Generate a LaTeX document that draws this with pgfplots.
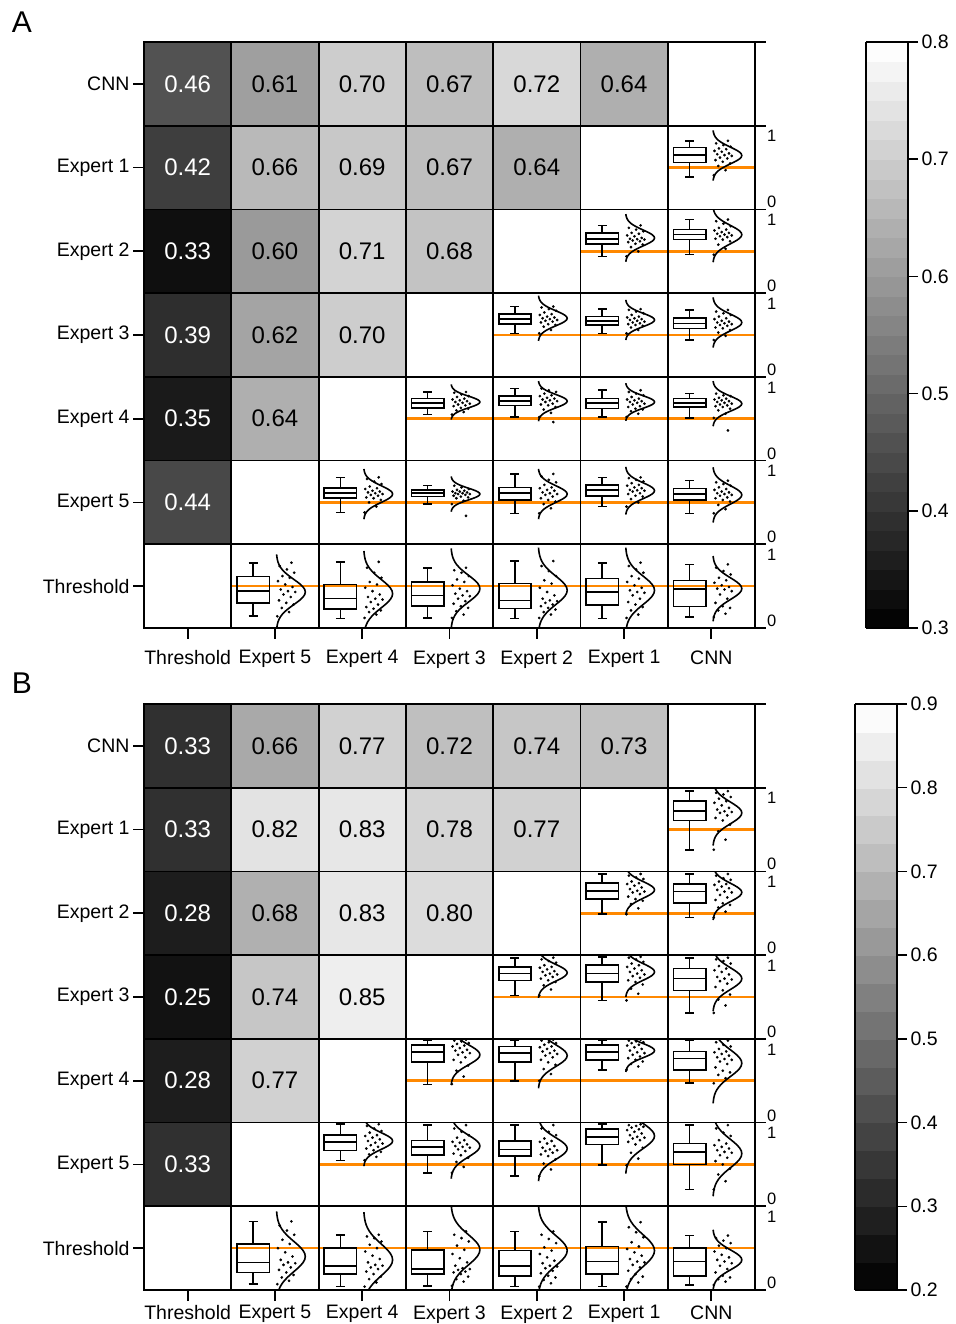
\documentclass[border=0pt]{standalone}
\usepackage{pgfplots}
\pgfplotsset{compat=1.18}
\usepackage{pgfplotstable}
\usepackage{fontspec}
\setmainfont{Liberation Sans}
\newcommand\fs[1]{\fontsize{#1}{#1}\selectfont}
\definecolor{kor}{RGB}{255,136,0}
\pgfkeys{/pgf/number format/assume math mode=true}

\pgfplotstableread{
z f
-3.0 0.0111
-2.8 0.0198
-2.6 0.0340
-2.4 0.0561
-2.2 0.0889
-2.0 0.1353
-1.8 0.1979
-1.6 0.2780
-1.4 0.3753
-1.2 0.4868
-1.0 0.6065
-0.8 0.7261
-0.6 0.8353
-0.4 0.9231
-0.2 0.9802
0.0 1.0000
0.2 0.9802
0.4 0.9231
0.6 0.8353
0.8 0.7261
1.0 0.6065
1.2 0.4868
1.4 0.3753
1.6 0.2780
1.8 0.1979
2.0 0.1353
2.2 0.0889
2.4 0.0561
2.6 0.0340
2.8 0.0198
3.0 0.0111
}\normcurve

\pgfplotstableread{
c r v
0 6 0.46
1 6 0.61
2 6 0.70
3 6 0.67
4 6 0.72
5 6 0.64
0 5 0.42
1 5 0.66
2 5 0.69
3 5 0.67
4 5 0.64
0 4 0.33
1 4 0.60
2 4 0.71
3 4 0.68
0 3 0.39
1 3 0.62
2 3 0.70
0 2 0.35
1 2 0.64
0 1 0.44
}\heatA

\pgfplotstableread{
c r v
0 6 0.33
1 6 0.66
2 6 0.77
3 6 0.72
4 6 0.74
5 6 0.73
0 5 0.33
1 5 0.82
2 5 0.83
3 5 0.78
4 5 0.77
0 4 0.28
1 4 0.68
2 4 0.83
3 4 0.80
0 3 0.25
1 3 0.74
2 3 0.85
0 2 0.28
1 2 0.77
0 1 0.33
}\heatB

\pgfplotsset{
  mini/.style={scale only axis, width=87.3pt, height=83.7pt, xmin=0, xmax=87.3,
    ymin=0, ymax=1, hide axis, anchor=south west, clip=true, unbounded coords=jump},
  heat/.style={anchor=south west, scale only axis, width=611pt, height=586pt,
    xmin=-0.5, xmax=6.5, ymin=-0.5, ymax=6.5,
    xtick={0,...,6}, ytick={0,...,6},
    xticklabels={Threshold,Expert 5,Expert 4,Expert 3,Expert 2,Expert 1,CNN},
    yticklabels={Threshold,Expert 5,Expert 4,Expert 3,Expert 2,Expert 1,CNN},
    xtick pos=left, ytick pos=left, tick align=outside, major tick length=11pt,
    tick style={black, line width=1.8pt},
    axis line style={black, line width=1.8pt},
    ticklabel style={font=\fs{19.5}},
    colormap/blackwhite,
    colorbar, colorbar sampled,
    colorbar shift/.style={},
    colorbar style={at={(parent axis.north east)}, anchor=north west,
      scale only axis, width=42pt, height=586pt,
      xtick=\empty, ytick pos=right, yticklabel pos=right,
      tick align=outside, major tick length=10pt,
      tick style={black, line width=1.5pt},
      axis line style={black, line width=1.5pt},
      yticklabel={\pgfmathprintnumber[fixed,fixed zerofill,precision=1]{\tick}},
      yticklabel style={font=\fs{19.5}}}},
  heatsq/.style={scatter, only marks, mark=square*, mark size=43.65pt,
    mark options={yscale=0.9588}, point meta=explicit,
    scatter/use mapped color={draw=none, fill=mapped color}},
  heattxt/.style={only marks, mark=none, point meta=explicit,
    nodes near coords={\pgfmathprintnumber[fixed,fixed zerofill,precision=2]{\pgfplotspointmeta}},
    every node near coord/.append style={font=\fs{24}, anchor=center}}
}

\newcommand{\cc}[2]{\def\cmu{#1}\def\csig{#2}}
\newcommand{\bx}[8]{%
  \pgfmathsetmacro\cx{144+87.3*#1}%
  \pgfmathsetmacro\cy{\panelY+83.7*#2}%
  \begin{axis}[mini, at={(\cx pt,\cy pt)}]
    \addplot[kor, line width=2.6pt] coordinates {(0,0.5) (87.3,0.5)};
    \addplot[black, line width=1.6pt] coordinates {(5.5,#4) (38,#4) (38,#6) (5.5,#6) (5.5,#4) (38,#4)};
    \addplot[black, line width=1.6pt] coordinates {(5.5,#5) (38,#5)};
    \addplot[black, line width=1.6pt] coordinates {(21.75,#6) (21.75,#7) (nan,nan) (17.25,#7) (26.25,#7)
      (nan,nan) (21.75,#4) (21.75,#3) (nan,nan) (17.25,#3) (26.25,#3)};
    \addplot[only marks, mark=*, mark size=1.15pt, black]
      table[header=false, row sep=\\, x expr={46+19*mod(\coordindex*0.618,1)}, y index=0] {#8\\};
    \addplot[black, line width=1.6pt, smooth]
      table[x expr={45+29*\thisrow{f}}, y expr={\cmu+\csig*\thisrow{z}}] {\normcurve};
  \end{axis}}

\newcommand{\rightax}[1]{%
  \foreach \k in {0,...,7} {\draw[line width=1.8pt] (755pt,{(#1+83.7*\k)*1pt}) -- ++(11pt,0);}
  \foreach \k in {0,...,5} {%
    \node[anchor=base west, inner sep=0pt, font=\fs{16.5}] at (767pt,{(#1+83.7*\k+1.5)*1pt}) {0};
    \node[anchor=base west, inner sep=0pt, font=\fs{16.5}] at (767pt,{(#1+83.7*\k+67.5)*1pt}) {1};}}
\newcommand{\gridlines}[1]{%
  \foreach \k in {1,...,6} {%
    \draw[line width=1.8pt] ({(144+87.3*\k)*1pt},{#1*1pt}) -- ++(0,586pt);
    \draw[line width=1.8pt] (144pt,{(#1+83.7*\k)*1pt}) -- ++(611pt,0);}}

\begin{document}
\begin{tikzpicture}
\useasboundingbox (0,0) rectangle (955pt,1324pt);

% ---------------- Panel A ----------------
\def\panelY{696}
\cc{.645}{.10}\bx{6}{5}{.39}{.56}{.65}{.74}{.82}{0.41\\0.47\\0.52\\0.55\\0.57\\0.59\\0.61\\0.62\\0.64\\0.65\\0.66\\0.67\\0.69\\0.70\\0.72\\0.73\\0.75\\0.77\\0.79\\0.82}
\cc{.66}{.095}\bx{5}{4}{.44}{.585}{.645}{.72}{.81}{0.44\\0.50\\0.55\\0.58\\0.59\\0.61\\0.62\\0.63\\0.64\\0.645\\0.65\\0.66\\0.68\\0.69\\0.71\\0.72\\0.74\\0.76\\0.78\\0.81}
\cc{.70}{.11}\bx{6}{4}{.46}{.64}{.70}{.76}{.88}{0.46\\0.53\\0.58\\0.62\\0.64\\0.65\\0.67\\0.68\\0.69\\0.70\\0.71\\0.72\\0.73\\0.75\\0.76\\0.78\\0.80\\0.83\\0.86\\0.88}
\cc{.70}{.09}\bx{4}{3}{.52}{.63}{.69}{.75}{.84}{0.52\\0.56\\0.60\\0.62\\0.63\\0.65\\0.66\\0.67\\0.68\\0.69\\0.70\\0.71\\0.72\\0.74\\0.75\\0.77\\0.79\\0.81\\0.83\\0.84}
\cc{.68}{.08}\bx{5}{3}{.52}{.62}{.67}{.72}{.81}{0.52\\0.56\\0.59\\0.61\\0.62\\0.63\\0.64\\0.65\\0.66\\0.67\\0.68\\0.69\\0.70\\0.71\\0.72\\0.74\\0.76\\0.78\\0.80\\0.81}
\cc{.65}{.10}\bx{6}{3}{.44}{.58}{.64}{.70}{.80}{0.44\\0.49\\0.53\\0.56\\0.58\\0.59\\0.61\\0.62\\0.63\\0.64\\0.65\\0.66\\0.67\\0.69\\0.70\\0.72\\0.74\\0.76\\0.78\\0.80}
\cc{.70}{.07}\bx{3}{2}{.55}{.63}{.69}{.74}{.82}{0.55\\0.58\\0.60\\0.62\\0.63\\0.65\\0.66\\0.67\\0.68\\0.69\\0.70\\0.71\\0.72\\0.73\\0.74\\0.76\\0.77\\0.79\\0.81\\0.82}
\cc{.71}{.08}\bx{4}{2}{.52}{.66}{.71}{.77}{.86}{0.52\\0.57\\0.61\\0.64\\0.66\\0.67\\0.68\\0.70\\0.71\\0.72\\0.73\\0.74\\0.75\\0.77\\0.78\\0.80\\0.82\\0.84\\0.86\\0.46}
\cc{.70}{.075}\bx{5}{2}{.52}{.62}{.69}{.74}{.84}{0.52\\0.56\\0.59\\0.61\\0.62\\0.64\\0.65\\0.67\\0.68\\0.69\\0.70\\0.71\\0.72\\0.73\\0.74\\0.76\\0.78\\0.80\\0.82\\0.84}
\cc{.68}{.09}\bx{6}{2}{.51}{.64}{.69}{.74}{.80}{0.51\\0.56\\0.60\\0.62\\0.64\\0.65\\0.66\\0.67\\0.68\\0.69\\0.70\\0.71\\0.72\\0.73\\0.74\\0.75\\0.77\\0.78\\0.80\\0.36}
\cc{.60}{.10}\bx{2}{1}{.38}{.55}{.61}{.67}{.80}{0.38\\0.45\\0.50\\0.53\\0.55\\0.56\\0.58\\0.59\\0.60\\0.61\\0.62\\0.63\\0.64\\0.66\\0.67\\0.69\\0.72\\0.75\\0.78\\0.80}
\cc{.60}{.07}\bx{3}{1}{.48}{.57}{.61}{.645}{.70}{0.48\\0.52\\0.55\\0.56\\0.57\\0.58\\0.59\\0.60\\0.60\\0.61\\0.61\\0.62\\0.63\\0.63\\0.64\\0.65\\0.66\\0.68\\0.70\\0.34}
\cc{.60}{.10}\bx{4}{1}{.37}{.53}{.61}{.68}{.84}{0.37\\0.43\\0.48\\0.51\\0.53\\0.55\\0.57\\0.59\\0.60\\0.61\\0.62\\0.64\\0.65\\0.67\\0.68\\0.71\\0.74\\0.77\\0.81\\0.84}
\cc{.64}{.095}\bx{5}{1}{.45}{.58}{.645}{.71}{.80}{0.45\\0.50\\0.54\\0.57\\0.58\\0.60\\0.61\\0.63\\0.64\\0.645\\0.65\\0.67\\0.68\\0.70\\0.71\\0.73\\0.75\\0.77\\0.79\\0.80}
\cc{.59}{.11}\bx{6}{1}{.37}{.53}{.60}{.665}{.76}{0.37\\0.42\\0.47\\0.51\\0.53\\0.55\\0.56\\0.58\\0.59\\0.60\\0.61\\0.62\\0.63\\0.65\\0.66\\0.68\\0.70\\0.72\\0.74\\0.76}
\cc{.43}{.15}\bx{1}{0}{.14}{.30}{.44}{.615}{.78}{0.14\\0.19\\0.24\\0.28\\0.30\\0.33\\0.37\\0.40\\0.43\\0.44\\0.46\\0.49\\0.52\\0.56\\0.60\\0.62\\0.66\\0.70\\0.74\\0.78}
\cc{.41}{.17}\bx{2}{0}{.115}{.226}{.35}{.52}{.79}{0.12\\0.16\\0.19\\0.21\\0.23\\0.25\\0.28\\0.31\\0.34\\0.35\\0.37\\0.40\\0.44\\0.48\\0.52\\0.55\\0.60\\0.66\\0.72\\0.79}
\cc{.47}{.16}\bx{3}{0}{.12}{.26}{.39}{.55}{.72}{0.12\\0.16\\0.20\\0.24\\0.26\\0.29\\0.32\\0.35\\0.38\\0.39\\0.41\\0.44\\0.47\\0.51\\0.55\\0.58\\0.62\\0.66\\0.69\\0.72}
\cc{.45}{.17}\bx{4}{0}{.115}{.235}{.33}{.53}{.80}{0.12\\0.16\\0.19\\0.22\\0.24\\0.26\\0.28\\0.30\\0.32\\0.33\\0.35\\0.39\\0.43\\0.48\\0.53\\0.57\\0.62\\0.68\\0.74\\0.80}
\cc{.45}{.17}\bx{5}{0}{.115}{.275}{.43}{.59}{.78}{0.12\\0.16\\0.21\\0.25\\0.28\\0.31\\0.35\\0.39\\0.42\\0.43\\0.45\\0.48\\0.51\\0.55\\0.59\\0.62\\0.66\\0.70\\0.74\\0.78}
\cc{.47}{.13}\bx{6}{0}{.13}{.255}{.465}{.565}{.76}{0.13\\0.17\\0.21\\0.24\\0.26\\0.30\\0.35\\0.40\\0.44\\0.46\\0.47\\0.49\\0.51\\0.54\\0.57\\0.60\\0.64\\0.68\\0.72\\0.76}

\begin{axis}[heat, at={(144pt,696pt)}, xticklabel style={yshift=-8pt},
  point meta min=0.3, point meta max=0.8,
  colorbar style={xshift=111pt, ytick={0.3,0.4,0.5,0.6,0.7,0.8}, samples=31}]
\addplot[heatsq] table[x=c, y=r, meta=v] {\heatA};
\addplot[heattxt, restrict x to domain=-0.5:0.5, every node near coord/.append style={text=white}]
  table[x=c, y=r, meta=v] {\heatA};
\addplot[heattxt, restrict x to domain=0.5:6.5, every node near coord/.append style={text=black}]
  table[x=c, y=r, meta=v] {\heatA};
\end{axis}
\gridlines{696}
\rightax{696}

% ---------------- Panel B ----------------
\def\panelY{34}
\cc{.70}{.13}\bx{6}{5}{.26}{.61}{.72}{.84}{.96}{0.26\\0.38\\0.48\\0.56\\0.61\\0.64\\0.67\\0.70\\0.71\\0.72\\0.74\\0.76\\0.79\\0.82\\0.84\\0.87\\0.89\\0.92\\0.94\\0.96}
\cc{.78}{.10}\bx{5}{4}{.49}{.67}{.77}{.86}{.97}{0.49\\0.56\\0.61\\0.65\\0.67\\0.70\\0.73\\0.75\\0.76\\0.77\\0.79\\0.81\\0.83\\0.85\\0.86\\0.88\\0.91\\0.93\\0.95\\0.97}
\cc{.75}{.11}\bx{6}{4}{.45}{.62}{.76}{.85}{.97}{0.45\\0.52\\0.57\\0.60\\0.62\\0.66\\0.69\\0.72\\0.75\\0.76\\0.78\\0.80\\0.82\\0.84\\0.85\\0.88\\0.90\\0.92\\0.95\\0.97}
\cc{.79}{.10}\bx{4}{3}{.52}{.70}{.78}{.86}{.97}{0.52\\0.59\\0.64\\0.68\\0.70\\0.72\\0.74\\0.76\\0.77\\0.78\\0.80\\0.81\\0.83\\0.85\\0.86\\0.88\\0.91\\0.93\\0.95\\0.97}
\cc{.80}{.10}\bx{5}{3}{.46}{.68}{.78}{.88}{.98}{0.46\\0.54\\0.60\\0.65\\0.68\\0.70\\0.73\\0.75\\0.77\\0.78\\0.80\\0.82\\0.84\\0.86\\0.88\\0.90\\0.92\\0.95\\0.97\\0.98}
\cc{.72}{.13}\bx{6}{3}{.31}{.58}{.72}{.84}{.97}{0.31\\0.40\\0.47\\0.53\\0.58\\0.62\\0.66\\0.69\\0.71\\0.72\\0.74\\0.77\\0.80\\0.82\\0.84\\0.87\\0.90\\0.93\\0.95\\0.97}
\cc{.81}{.12}\bx{3}{2}{.455}{.725}{.84}{.924}{.99}{0.46\\0.55\\0.62\\0.68\\0.72\\0.75\\0.78\\0.81\\0.83\\0.84\\0.86\\0.87\\0.89\\0.91\\0.92\\0.94\\0.95\\0.97\\0.98\\0.99}
\cc{.80}{.13}\bx{4}{2}{.50}{.725}{.83}{.91}{.99}{0.50\\0.58\\0.64\\0.69\\0.72\\0.75\\0.78\\0.80\\0.82\\0.83\\0.85\\0.86\\0.88\\0.90\\0.91\\0.93\\0.95\\0.96\\0.98\\0.99}
\cc{.86}{.085}\bx{5}{2}{.625}{.745}{.84}{.93}{.99}{0.63\\0.67\\0.70\\0.73\\0.75\\0.77\\0.79\\0.81\\0.83\\0.84\\0.86\\0.88\\0.90\\0.92\\0.93\\0.95\\0.96\\0.97\\0.98\\0.99}
\cc{.71}{.16}\bx{6}{2}{.47}{.625}{.765}{.85}{.98}{0.47\\0.53\\0.57\\0.60\\0.62\\0.66\\0.70\\0.73\\0.75\\0.76\\0.78\\0.80\\0.82\\0.84\\0.85\\0.88\\0.91\\0.93\\0.96\\0.98}
\cc{.78}{.10}\bx{2}{1}{.545}{.665}{.765}{.85}{.98}{0.55\\0.59\\0.62\\0.65\\0.67\\0.69\\0.71\\0.73\\0.75\\0.76\\0.78\\0.80\\0.82\\0.84\\0.85\\0.88\\0.90\\0.93\\0.96\\0.98}
\cc{.72}{.13}\bx{3}{1}{.40}{.61}{.71}{.785}{.97}{0.40\\0.47\\0.53\\0.58\\0.61\\0.63\\0.66\\0.68\\0.70\\0.71\\0.72\\0.74\\0.76\\0.77\\0.79\\0.82\\0.85\\0.89\\0.93\\0.97}
\cc{.69}{.13}\bx{4}{1}{.36}{.60}{.68}{.78}{.97}{0.36\\0.44\\0.51\\0.56\\0.60\\0.62\\0.64\\0.66\\0.67\\0.68\\0.70\\0.72\\0.75\\0.77\\0.78\\0.81\\0.85\\0.89\\0.93\\0.97}
\cc{.84}{.15}\bx{5}{1}{.49}{.74}{.83}{.92}{.98}{0.49\\0.57\\0.64\\0.70\\0.74\\0.77\\0.79\\0.81\\0.82\\0.83\\0.85\\0.87\\0.89\\0.91\\0.92\\0.94\\0.95\\0.96\\0.97\\0.98}
\cc{.63}{.17}\bx{6}{1}{.20}{.50}{.65}{.75}{.97}{0.20\\0.30\\0.38\\0.45\\0.50\\0.54\\0.58\\0.61\\0.64\\0.65\\0.67\\0.69\\0.71\\0.73\\0.75\\0.79\\0.84\\0.88\\0.93\\0.97}
\cc{.40}{.18}\bx{1}{0}{.07}{.21}{.33}{.55}{.82}{0.07\\0.11\\0.15\\0.18\\0.21\\0.24\\0.27\\0.30\\0.32\\0.33\\0.36\\0.40\\0.45\\0.50\\0.55\\0.60\\0.66\\0.71\\0.77\\0.82}
\cc{.36}{.19}\bx{2}{0}{.04}{.19}{.29}{.505}{.66}{0.04\\0.09\\0.13\\0.16\\0.19\\0.22\\0.25\\0.27\\0.29\\0.30\\0.33\\0.37\\0.41\\0.46\\0.50\\0.54\\0.58\\0.62\\0.64\\0.66}
\cc{.48}{.18}\bx{3}{0}{.05}{.19}{.25}{.48}{.70}{0.05\\0.10\\0.13\\0.16\\0.19\\0.21\\0.22\\0.24\\0.25\\0.26\\0.29\\0.33\\0.38\\0.43\\0.48\\0.53\\0.58\\0.62\\0.66\\0.70}
\cc{.47}{.18}\bx{4}{0}{.04}{.17}{.29}{.47}{.70}{0.04\\0.08\\0.12\\0.15\\0.17\\0.20\\0.23\\0.26\\0.28\\0.29\\0.32\\0.35\\0.39\\0.43\\0.47\\0.51\\0.56\\0.61\\0.66\\0.70}
\cc{.47}{.19}\bx{5}{0}{.04}{.19}{.34}{.52}{.81}{0.04\\0.09\\0.13\\0.16\\0.19\\0.23\\0.27\\0.30\\0.33\\0.34\\0.37\\0.41\\0.45\\0.49\\0.52\\0.57\\0.63\\0.69\\0.75\\0.81}
\cc{.36}{.12}\bx{6}{0}{.06}{.17}{.34}{.50}{.65}{0.06\\0.10\\0.13\\0.15\\0.17\\0.21\\0.25\\0.29\\0.32\\0.34\\0.36\\0.39\\0.42\\0.46\\0.50\\0.53\\0.56\\0.59\\0.62\\0.65}

\begin{axis}[heat, at={(144pt,34pt)}, xticklabel style={yshift=-1pt},
  point meta min=0.2, point meta max=0.9,
  colorbar style={xshift=100pt, ytick={0.2,0.3,0.4,0.5,0.6,0.7,0.8,0.9}, samples=22}]
\addplot[heatsq] table[x=c, y=r, meta=v] {\heatB};
\addplot[heattxt, restrict x to domain=-0.5:0.5, every node near coord/.append style={text=white}]
  table[x=c, y=r, meta=v] {\heatB};
\addplot[heattxt, restrict x to domain=0.5:6.5, every node near coord/.append style={text=black}]
  table[x=c, y=r, meta=v] {\heatB};
\end{axis}
\gridlines{34}
\rightax{34}

\node[font=\fs{30}] at (22pt,1302pt) {A};
\node[font=\fs{30}] at (22pt,641pt) {B};
\end{tikzpicture}
\end{document}
